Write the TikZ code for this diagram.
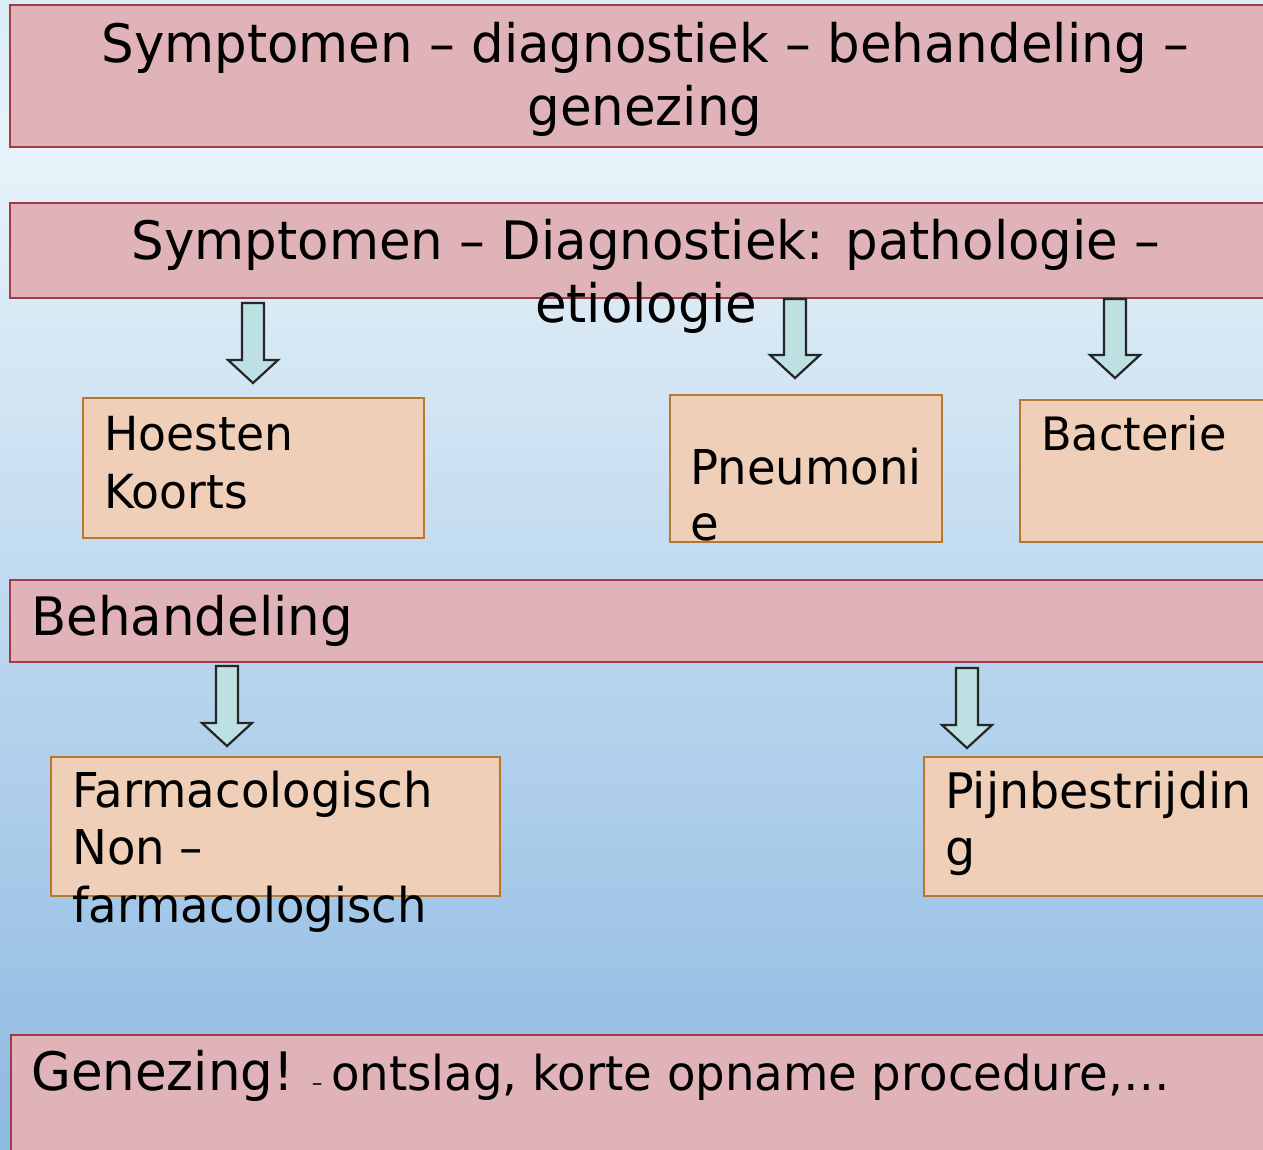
\documentclass[tikz,border=0pt]{standalone}
\usepackage{fontspec}
\setmainfont[FakeStretch=0.97]{DejaVu Sans}
\definecolor{pinkfill}{HTML}{E0B3B8}
\definecolor{pinkline}{HTML}{A33A4A}
\definecolor{peachfill}{HTML}{F0CFB8}
\definecolor{peachline}{HTML}{B8772F}
\definecolor{arrowfill}{HTML}{BDE0E2}
\definecolor{bgtop}{HTML}{D9ECF5}
\definecolor{bglight}{HTML}{E8F3F9}
\definecolor{bgbottom}{HTML}{8DB9E2}
\tikzset{
  pinkbox/.style={draw=pinkline, fill=pinkfill, line width=1.5pt, inner sep=0pt},
  peachbox/.style={draw=peachline, fill=peachfill, line width=1.5pt, inner sep=0pt},
  blockarrow/.style={draw=black!85, fill=arrowfill, line width=2.2pt, line join=miter},
  label/.style={inner sep=0pt, text=black},
}
\newcommand\barrow[3]{%
  \draw[blockarrow] (#1-11,#2) -- (#1+11,#2) -- (#1+11,#3-23) -- (#1+25,#3-23)
    -- (#1,#3) -- (#1-25,#3-23) -- (#1-11,#3-23) -- cycle;}
\begin{document}
\begin{tikzpicture}[x=1pt,y=-1pt]
\useasboundingbox (0,0) rectangle (1263,1149);
% background
\shade[top color=bgtop, bottom color=bglight] (0,0) rectangle (1263,150);
\shade[top color=bglight, bottom color=bgbottom] (0,150) rectangle (1263,1149);
\begin{scope}
\clip (0,0) rectangle (1263,1149);
% boxes
\draw[pinkbox] (10,5) rectangle (1272,147);
\draw[pinkbox] (10,203) rectangle (1272,298);
\draw[peachbox] (83,398) rectangle (424,538);
\draw[peachbox] (670,395) rectangle (942,542);
\draw[peachbox] (1020,400) rectangle (1272,542);
\draw[pinkbox] (10,580) rectangle (1272,662);
\draw[peachbox] (51,757) rectangle (500,896);
\draw[peachbox] (924,757) rectangle (1272,896);
\draw[pinkbox] (11,1035) rectangle (1272,1160);
\end{scope}
% texts (base anchor = baseline of the last line)
\node[label, anchor=base, align=center, font=\fontsize{53}{63}\selectfont] (t1) at (645,125)
  {Symptomen – diagnostiek – behandeling –\\genezing};
\node[label, anchor=base, align=center, font=\fontsize{53}{63}\selectfont] (t2) at (646,322)
  {Symptomen – Diagnostiek: pathologie –\\etiologie};
\node[label, anchor=base west, align=left, font=\fontsize{47}{58}\selectfont] (hk) at (104,508)
  {Hoesten\\Koorts};
\node[label, anchor=base west, align=left, font=\fontsize{48}{56}\selectfont] (pn) at (690,540)
  {Pneumoni\\e};
\node[label, anchor=base west, font=\fontsize{46}{58}\selectfont] (ba) at (1041,450) {Bacterie};
\node[label, anchor=base west, font=\fontsize{53}{60}\selectfont] (be) at (31,635) {Behandeling};
\node[label, anchor=base west, align=left, font=\fontsize{48}{57.5}\selectfont] (fa) at (72,922)
  {Farmacologisch\\Non –\\farmacologisch};
\node[label, anchor=base west, align=left, font=\fontsize{49}{57}\selectfont] (pij) at (945,865)
  {Pijnbestrijdin\\g};
\node[label, anchor=base west, font=\fontsize{53}{60}\selectfont] (ge) at (31,1090)
  {Genezing!\hspace{-4pt} {\fontsize{22}{26}\selectfont –}\,{\fontsize{48}{56}\selectfont ontslag, korte opname procedure,…}};
% block arrows
\barrow{253}{303}{383}
\barrow{795}{299}{378}
\barrow{1115}{299}{378}
\barrow{227}{666}{746}
\barrow{967}{668}{748}
\end{tikzpicture}
\end{document}
